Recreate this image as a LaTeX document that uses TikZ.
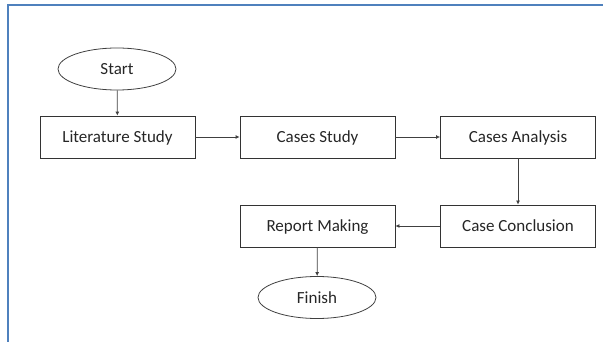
\documentclass[tikz,border=0pt]{standalone}
\usepackage{fontspec}
\setmainfont{Carlito}
\usetikzlibrary{shapes.geometric, arrows.meta}
\tikzset{
	box/.style={draw=black!80, thick, minimum width=155pt, minimum height=42pt, text height=11pt, text depth=0pt, font=\fontsize{17}{20}\selectfont, text=black!85},
	terminal/.style={ellipse, draw=black!75, thick, minimum width=118pt, minimum height=42pt, inner sep=0pt, text height=11pt, text depth=0pt, font=\fontsize{17}{20}\selectfont, text=black!85},
	flow/.style={draw=black!75, thick, -{Latex[length=4pt, width=4pt]}}
}
\definecolor{frameblue}{HTML}{4F81BD}

\begin{document}
\begin{tikzpicture}[x=1pt, y=-1pt]
\useasboundingbox (0,0) rectangle (603,342);
\draw[frameblue, line width=2pt] (8,342) -- (8,5) -- (603,5);
\node (start) [terminal] at (117,69) {Start};
\node (lit) [box] at (117.5,137) {Literature Study};
\node (cases) [box] at (317.5,137) {Cases Study};
\node (analysis) [box] at (518,137) {Cases Analysis};
\node (concl) [box] at (518,226) {Case Conclusion};
\node (report) [box] at (317.5,226) {Report Making};
\node (finish) [terminal] at (317,297.5) {Finish};
\draw[flow] (start) -- (lit); \draw[flow] (lit) -- (cases);
\draw[flow] (cases) -- (analysis); \draw[flow] (analysis) -- (concl);
\draw[flow] (concl) -- (report); \draw[flow] (report) -- (finish);
\end{tikzpicture}
\end{document}
